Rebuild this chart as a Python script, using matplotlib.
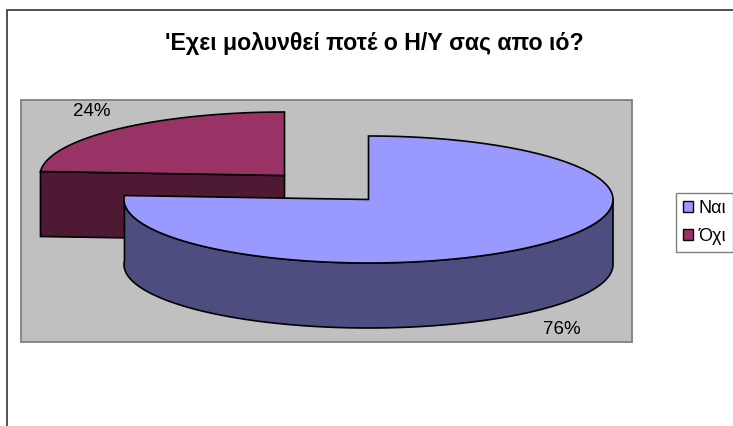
import numpy as np
import matplotlib
matplotlib.use('Agg')
import matplotlib.pyplot as plt
from matplotlib.patches import Polygon, Rectangle

# values from the chart
labels = ['Ναι', 'Όχι']
values = [76, 24]
title = "'Εχει μολυνθεί ποτέ ο Η/Υ σας απο ιό?"

top_colors = ['#9999FF', '#993366']
side_colors = ['#4D4D80', '#4D1933']

plt.rcParams['font.family'] = ['Liberation Sans', 'DejaVu Sans']

# pie geometry in pixels
cx, cy = 368.5, 199.5
rx, ry = 244.5, 63.5
depth = 65
explode = (-84, -24)


def arc(a0, a1, dx=0, dy=0, down=0):
    # angles clockwise from 12 o'clock, in degrees
    t = np.radians(np.linspace(a0, a1, 200))
    x = cx + dx + rx * np.sin(t)
    y = cy + dy + down - ry * np.cos(t)
    return np.column_stack([x, y])


fig = plt.figure(figsize=(7.33, 4.26), dpi=100)
ax = fig.add_axes([0, 0, 1, 1])
ax.set_xlim(0, 733)
ax.set_ylim(426, 0)
ax.axis('off')

# chart frame, runs off the right and bottom of the image
ax.add_patch(Rectangle((7, 10), 800, 500, fc='white', ec='#333333', lw=1.2))
# plot area
ax.add_patch(Rectangle((21, 100), 611, 242, fc='#C0C0C0', ec='#808080', lw=1.3))

ends = np.cumsum(values) / np.sum(values) * 360
end_big = ends[0]
LW = 1.2

# pulled out slice goes first, the big one sits on top of it
dx, dy = explode
ax_, ay_ = cx + dx, cy + dy
edge = arc(end_big, 360, dx, dy)
ax.add_patch(Polygon([edge[0], (ax_, ay_), (ax_, ay_ + depth), edge[0] + (0, depth)],
                     fc=side_colors[1], ec='black', lw=LW))
ax.add_patch(Polygon(np.vstack([[(ax_, ay_)], edge]), fc=top_colors[1], ec='black', lw=LW))

# big slice
wall_top = arc(90, end_big)
wall_bot = arc(90, end_big, down=depth)
ax.add_patch(Polygon(np.vstack([wall_top, wall_bot[::-1]]), fc=side_colors[0], ec='black', lw=LW))
ax.add_patch(Polygon(np.vstack([[(cx, cy)], arc(0, end_big)]), fc=top_colors[0], ec='black', lw=LW))

ax.text(374.5, 43.5, title, ha='center', va='center', fontsize=16.7, fontweight='bold', color='black')
ax.text(562, 330, '%d%%' % values[0], ha='center', va='center', fontsize=13.5)
ax.text(92, 112, '%d%%' % values[1], ha='center', va='center', fontsize=13.5)

# legend
handles = [Rectangle((0, 0), 1, 1, fc=c, ec='black', lw=1.0) for c in top_colors]
leg = ax.legend(handles, labels, loc='upper left', bbox_to_anchor=(676, 193), bbox_transform=ax.transData,
                borderaxespad=0, fontsize=13, fancybox=False, framealpha=1, edgecolor='#808080',
                handlelength=0.55, handleheight=0.55, handletextpad=0.33, labelspacing=0.6,
                borderpad=0.38)
leg.get_frame().set_linewidth(1.0)

fig.savefig('out.png', dpi=100)
